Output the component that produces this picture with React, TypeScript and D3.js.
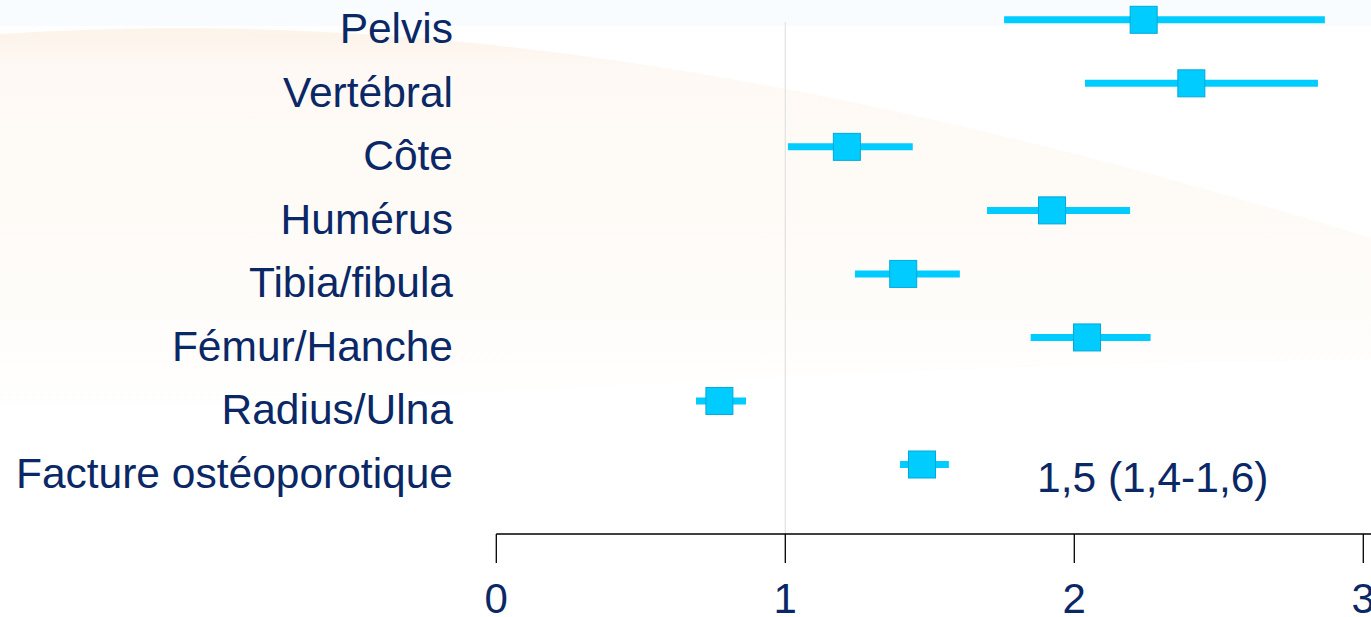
import React from "react";
import * as d3 from "d3";

const categories = [
  "Pelvis",
  "Vertébral",
  "Côte",
  "Humérus",
  "Tibia/fibula",
  "Fémur/Hanche",
  "Radius/Ulna",
  "Facture ostéoporotique",
];
const estimates = [2.24, 2.405, 1.213, 1.923, 1.408, 2.044, 0.772, 1.473];
const lowerCI = [1.757, 2.037, 1.009, 1.698, 1.241, 1.849, 0.691, 1.397];
const upperCI = [2.867, 2.843, 1.441, 2.193, 1.604, 2.264, 0.864, 1.566];
const xTicks = [0, 1, 2, 3];
const summaryLabel = "1,5 (1,4-1,6)";
const referenceValue = 1;

const W = 1371;
const H = 617;
const TEXT = "#0b2866";
const CYAN = "#00ccff";
const CYAN_STROKE = "#00a9da";
const FONT = "'Liberation Sans', Arial, Helvetica, sans-serif";

export default function App() {
  const x = d3.scaleLinear().domain([0, 3]).range([496.3, 1363.3]);
  const y = d3.scalePoint<string>().domain(categories).range([19.8, 464.5]);
  const axisY = 534;
  const box = 27;

  const swoosh = "M0,34 C 300,16 700,30 1371,238 L1371,360 C 900,362 400,400 0,420 Z";

  return (
    <svg
      width={W}
      height={H}
      style={{ position: "absolute", left: 0, top: 0, background: "#ffffff" }}
      fontFamily={FONT}
    >
      <defs>
        <linearGradient id="warm" x1="0" y1="0" x2="0" y2="1">
          <stop offset="0" stopColor="#fcf3e9" />
          <stop offset="0.1" stopColor="#fef9f4" />
          <stop offset="0.7" stopColor="#fefcf9" />
          <stop offset="1" stopColor="#ffffff" />
        </linearGradient>
      </defs>
      <rect x={0} y={0} width={W} height={H} fill="#ffffff" />
      <rect x={0} y={0} width={W} height={26} fill="#f9fcfe" />
      <path d={swoosh} fill="url(#warm)" />

      {/* reference line */}
      <line
        x1={x(referenceValue)}
        x2={x(referenceValue)}
        y1={22}
        y2={axisY}
        stroke="#e2e2e2"
        strokeWidth={1.2}
      />

      {/* axis */}
      <line x1={x(0)} x2={W} y1={axisY} y2={axisY} stroke="#000" strokeWidth={1.3} />
      {xTicks.map((t) => (
        <g key={t}>
          <line x1={x(t)} x2={x(t)} y1={axisY} y2={563} stroke="#000" strokeWidth={1.3} />
          <text x={x(t)} y={613} textAnchor="middle" fontSize={42} fill={TEXT}>
            {t}
          </text>
        </g>
      ))}

      {/* rows */}
      {categories.map((c, i) => {
        const cy = y(c) as number;
        return (
          <g key={c}>
            <text x={453} y={cy + 23.5} textAnchor="end" fontSize={42.5} fill={TEXT}>
              {c}
            </text>
            <line
              x1={x(lowerCI[i])}
              x2={x(upperCI[i])}
              y1={cy}
              y2={cy}
              stroke={CYAN}
              strokeWidth={7}
            />
            <rect
              x={x(estimates[i]) - box / 2}
              y={cy - box / 2}
              width={box}
              height={box}
              fill={CYAN}
              stroke={CYAN_STROKE}
              strokeWidth={1}
            />
          </g>
        );
      })}

      <text x={1037} y={492} fontSize={42.5} fill={TEXT}>
        {summaryLabel}
      </text>
    </svg>
  );
}
